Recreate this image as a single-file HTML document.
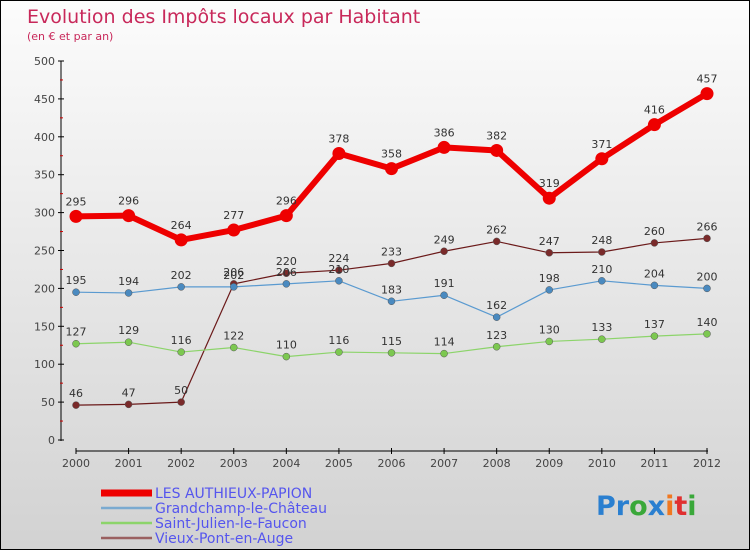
<!DOCTYPE html>
<html><head><meta charset="utf-8"><style>
body{margin:0}
#c{width:748px;height:548px;border:1px solid #000;background:linear-gradient(#fcfcfc,#d2d2d2);position:relative;font-family:"DejaVu Sans","Liberation Sans",sans-serif;overflow:hidden}
svg{position:absolute;left:0;top:0}
</style></head><body>
<div id="c">
<svg id="s" width="748" height="548">
<text x="26" y="22" font-size="19" fill="#c8285a">Evolution des Impôts locaux par Habitant</text>
<text x="26" y="39" font-size="11" fill="#c8285a">(en € et par an)</text>
<text x="595" y="514" font-size="27" font-weight="bold"><tspan fill="#2a7fd0">Pr</tspan><tspan fill="#3aa83a">o</tspan><tspan fill="#2a7fd0">x</tspan><tspan fill="#f07820">i</tspan><tspan fill="#e03030">t</tspan><tspan fill="#3aa83a">i</tspan></text>
</svg></div>
<script>
const years=[2000,2001,2002,2003,2004,2005,2006,2007,2008,2009,2010,2011,2012];
const authieux=[295,296,264,277,296,378,358,386,382,319,371,416,457];
const grandchamp=[195,194,202,202,206,210,183,191,162,198,210,204,200];
const stjulien=[127,129,116,122,110,116,115,114,123,130,133,137,140];
const vieuxpont=[46,47,50,206,220,224,233,249,262,247,248,260,266];
const yTicks=[0,50,100,150,200,250,300,350,400,450,500];
const names=["LES AUTHIEUX-PAPION","Grandchamp-le-Château","Saint-Julien-le-Faucon","Vieux-Pont-en-Auge"];
const s=document.getElementById('s');const NS="http://www.w3.org/2000/svg";
const X=i=>75+i*(706-75)/(years.length-1);
const Y=v=>439-v*(439-60)/500;
function el(t,a,p){const e=document.createElementNS(NS,t);for(const k in a)e.setAttribute(k,a[k]);(p||s).appendChild(e);return e;}
// axes
let a=el('line',{x1:60,y1:60,x2:60,y2:440,stroke:'#000'});


a=el('line',{x1:75,y1:450,x2:707,y2:450,stroke:'#000'});


yTicks.forEach(v=>{el('line',{x1:57,y1:Y(v),x2:63,y2:Y(v),stroke:'#000'});
const t=el('text',{x:54,y:Y(v)+4,'text-anchor':'end','font-size':11,fill:'#444'});t.textContent=v;


if(v<500)el('line',{x1:59,y1:Y(v+25),x2:62,y2:Y(v+25),stroke:'#c00'});});
years.forEach((y,i)=>{el('line',{x1:X(i),y1:447,x2:X(i),y2:453,stroke:'#000'});
const t=el('text',{x:X(i),y:466,'text-anchor':'middle','font-size':11,fill:'#444'});t.textContent=y;

});
const series=[[vieuxpont,'#6b1a1a','#7a2a2a',1.2,3.5,'vieux-pont'],[stjulien,'#8cd46a','#7cc850',1.2,3.5,'saint-julien'],[grandchamp,'#5a9ad0','#4a8ac0',1.2,3.5,'grandchamp'],[authieux,'#e00','#e00',6,6.5,'authieux']];
series.forEach(([d,lc,pc,w,r,n])=>{
const g=el('g',{});
el('polyline',{points:d.map((v,i)=>X(i)+','+Y(v)).join(' '),fill:'none',stroke:lc,'stroke-width':w,'stroke-linejoin':'round'},g);
d.forEach((v,i)=>{const c=el('circle',{cx:X(i),cy:Y(v),r:r,fill:pc,stroke:n=='authieux'?'none':'#555','stroke-width':0.5},g);


const t=el('text',{x:X(i),y:Y(v)-(n=='authieux'?11:8),'text-anchor':'middle','font-size':11,fill:'#333'},g);t.textContent=v;

});
});
const lc=['#e00','#7aaad0','#8cd46a','#9a6060'],lw=[7,2.5,2.5,2.5];
names.forEach((nm,i)=>{const y=491+i*15;
el('line',{x1:100,y1:y+1,x2:151,y2:y+1,stroke:lc[i],'stroke-width':lw[i]});
const t=el('text',{x:154,y:y+6,'font-size':14,fill:'#5555ee','textLength':0});t.removeAttribute('textLength');t.textContent=nm;

});
</script>
</body></html>
